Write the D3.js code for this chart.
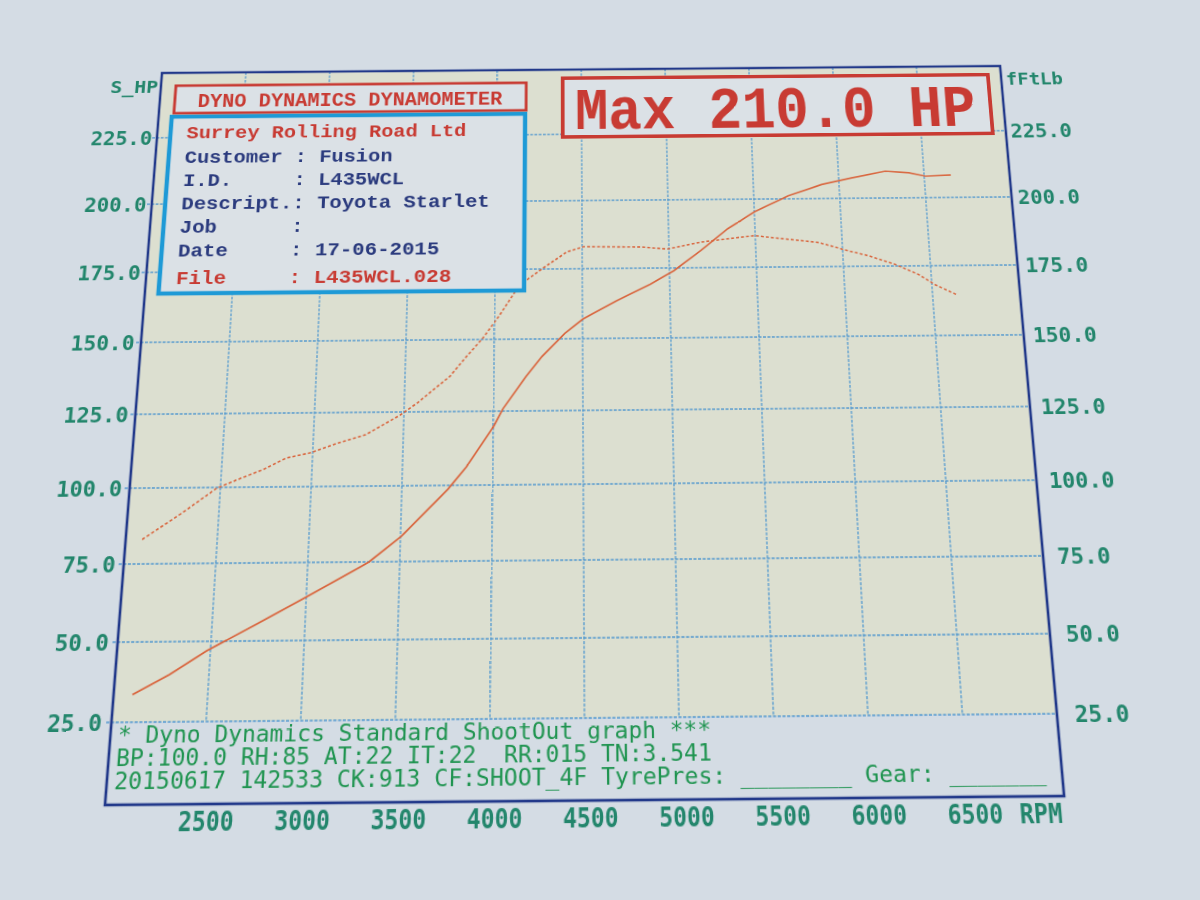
<!DOCTYPE html>
<html>
<head>
<meta charset="utf-8">
<script src="https://cdn.jsdelivr.net/npm/d3@7"></script>
<style>
  html, body { margin: 0; padding: 0; width: 1200px; height: 900px; overflow: hidden;
    background: #d4dce4; }
  #stage { position: absolute; left: 0; top: 0; width: 1200px; height: 900px;
    transform-origin: 0 0; }
  svg text { white-space: pre; }
</style>
</head>
<body>
<div id="stage"></div>
<script>
// ---------------- data ----------------
const xTicks = [2500, 3000, 3500, 4000, 4500, 5000, 5500, 6000, 6500];
const yTicks = [25, 50, 75, 100, 125, 150, 175, 200, 225];

// Power (solid line, S_HP, left axis)
const rpmPower = [2100, 2290, 2480, 2730, 2980, 3135, 3290, 3333, 3505, 3754, 3853, 4000, 4053, 4180,
  4270, 4399, 4502, 4695, 4889, 5026, 5183, 5342, 5502, 5700, 5898, 6076, 6274, 6411, 6508, 6656];
const hpValues = [33.5, 39.7, 47.0, 55.0, 63.2, 68.3, 73.5, 75.0, 83.3, 98.7, 106.1, 119.6, 125.8, 136.8,
  143.8, 151.9, 156.9, 163.3, 169.2, 174.0, 181.2, 189.1, 195.3, 201.1, 205.2, 207.6, 210.0, 209.4, 208.0, 208.4];

// Torque (dotted line, fFtLb, right axis)
const rpmTorque = [2090, 2289, 2477, 2585, 2729, 2856, 2983, 3135, 3289, 3480, 3572, 3662, 3753, 3843,
  3933, 4028, 4140, 4270, 4411, 4508, 4701, 4836, 4991, 5185, 5339, 5496, 5671, 5865, 6002, 6152,
  6300, 6429, 6519, 6640];
const tqValues = [83.0, 91.2, 99.6, 102.4, 105.8, 109.7, 111.3, 114.5, 117.3, 124.0, 128.0, 132.6, 137.2, 144.0,
  150.3, 158.5, 169.2, 175.1, 181.1, 183.0, 182.8, 182.7, 181.9, 184.3, 185.4, 186.5, 185.2, 183.8, 181.2, 178.7,
  175.5, 171.8, 168.1, 164.4];

const titleText = "DYNO DYNAMICS DYNAMOMETER";
const maxText = "Max 210.0 HP";
const infoLines = [
  {t: "Surrey Rolling Road Ltd", c: "red"},
  {t: "Customer : Fusion", c: "navy"},
  {t: "I.D.     : L435WCL", c: "navy"},
  {t: "Descript.: Toyota Starlet", c: "navy"},
  {t: "Job      :", c: "navy"},
  {t: "Date     : 17-06-2015", c: "navy"},
  {t: "File     : L435WCL.028", c: "red"}
];
const footerLines = [
  "* Dyno Dynamics Standard ShootOut graph ***",
  "BP:100.0 RH:85 AT:22 IT:22  RR:015 TN:3.541",
  "20150617 142533 CK:913 CF:SHOOT_4F TyrePres: ________ Gear: _______"
];

// ---------------- layout (flat design space) ----------------
const COL = {
  paper: "#d4dce4", plot: "#dcdfd0", box: "#dbe1e6",
  frame: "#22398a", grid: "#3f8fcf", curve: "#d9643c",
  red: "#c83b33", navy: "#2b3b7e", teal: "#23866c", green: "#1f9450", cyan: "#1e9ad6"
};

const svg = d3.select("#stage").append("svg")
  .attr("width", 1200).attr("height", 900);

const x = d3.scaleLinear().domain([2000, 7000]).range([150, 1050]);
const yHP = d3.scaleLinear().domain([0, 250]).range([830, 80]);
const yTQ = d3.scaleLinear().domain([0, 250]).range([830, 80]);

// plot background
svg.append("rect").attr("x", x(2000)).attr("y", yHP(250))
  .attr("width", x(7000) - x(2000)).attr("height", yHP(25) - yHP(250)).attr("fill", COL.plot);

// grid
const grid = svg.append("g").attr("stroke", COL.grid).attr("stroke-width", 1.3)
  .attr("stroke-dasharray", "3,1.5").attr("opacity", 0.85);
grid.selectAll("line.v").data(xTicks).join("line").attr("class", "v")
  .attr("x1", d => x(d)).attr("x2", d => x(d)).attr("y1", yHP(250)).attr("y2", yHP(25));
grid.selectAll("line.h").data(yTicks).join("line").attr("class", "h")
  .attr("x1", x(2000) - 5).attr("x2", x(7000)).attr("y1", d => yHP(d)).attr("y2", d => yHP(d));

// curves
const linePower = d3.line().x((d, i) => x(rpmPower[i])).y(d => yHP(d));
const lineTorque = d3.line().x((d, i) => x(rpmTorque[i])).y(d => yTQ(d));
svg.append("path").datum(tqValues).attr("d", lineTorque).attr("fill", "none")
  .attr("stroke", COL.curve).attr("stroke-width", 1.6).attr("stroke-dasharray", "3,2.2");
svg.append("path").datum(hpValues).attr("d", linePower).attr("fill", "none")
  .attr("stroke", COL.curve).attr("stroke-width", 1.7);

// frame
svg.append("rect").attr("x", 150).attr("y", 80).attr("width", 900).attr("height", 750)
  .attr("fill", "none").attr("stroke", COL.frame).attr("stroke-width", 2.6);

// title box
svg.append("rect").attr("x", 166).attr("y", 95).attr("width", 375).attr("height", 32)
  .attr("fill", COL.box).attr("stroke", COL.red).attr("stroke-width", 3);
svg.append("text").attr("x", 353).attr("y", 120).attr("text-anchor", "middle")
  .attr("font-family", "Liberation Mono, monospace").attr("font-weight", "bold")
  .attr("font-size", 22).attr("textLength", 325).attr("lengthAdjust", "spacingAndGlyphs")
  .attr("fill", COL.red).text(titleText);

// info box
svg.append("rect").attr("x", 164).attr("y", 131).attr("width", 376).attr("height", 197)
  .attr("fill", COL.box).attr("stroke", COL.cyan).attr("stroke-width", 4.5);
const infoY = [156, 184, 210, 236, 262, 288, 318];
svg.append("g").selectAll("text").data(infoLines).join("text")
  .attr("x", 181).attr("y", (d, i) => infoY[i])
  .attr("font-family", "Liberation Mono, monospace").attr("font-weight", "bold")
  .attr("font-size", 21).attr("textLength", d => d.t.length * 12.9).attr("lengthAdjust", "spacingAndGlyphs")
  .attr("fill", d => d.c === "red" ? COL.red : COL.navy).text(d => d.t);

// Max box
svg.append("rect").attr("x", 580).attr("y", 90).attr("width", 456).attr("height", 68)
  .attr("fill", COL.box).attr("stroke", COL.red).attr("stroke-width", 4);
svg.append("text").attr("x", 593).attr("y", 149)
  .attr("font-family", "Liberation Mono, monospace").attr("font-weight", "bold")
  .attr("font-size", 68).attr("textLength", 427).attr("lengthAdjust", "spacingAndGlyphs")
  .attr("fill", COL.red).text(maxText);

// footer text
svg.append("g").selectAll("text").data(footerLines).join("text")
  .attr("x", 157).attr("y", (d, i) => [774, 795, 816][i])
  .attr("font-family", "DejaVu Sans Mono, monospace")
  .attr("font-size", 22).attr("textLength", d => d.length * 13.1).attr("lengthAdjust", "spacingAndGlyphs")
  .attr("fill", COL.green).text(d => d);

// axes
const fmt = d => d.toFixed(1);
function styleAxis(g, charW, fs) {
  g.select(".domain").remove();
  g.selectAll(".tick text")
    .attr("font-family", "DejaVu Sans Mono, monospace").attr("font-weight", "bold")
    .attr("font-size", fs).attr("fill", COL.teal)
    .attr("textLength", function() { return this.textContent.length * charW; })
    .attr("lengthAdjust", "spacingAndGlyphs");
}
const padL = d => 5 + (225 - d) / 200 * 4;
const padR = d => 5 + (225 - d) / 200 * 12;
svg.append("g").attr("transform", "translate(150,0)")
  .call(d3.axisLeft(yHP).tickValues(yTicks).tickFormat(fmt).tickSize(0))
  .call(g => styleAxis(g, 13, 22))
  .call(g => g.selectAll(".tick text").attr("x", d => -padL(d)));
svg.append("g").attr("transform", "translate(1050,0)")
  .call(d3.axisRight(yTQ).tickValues(yTicks).tickFormat(fmt).tickSize(0))
  .call(g => styleAxis(g, 13, 22))
  .call(g => g.selectAll(".tick text").attr("x", d => padR(d)));
svg.append("g").attr("transform", "translate(5,830)")
  .call(d3.axisBottom(x).tickValues(xTicks).tickFormat(d3.format("d")).tickSize(0).tickPadding(6))
  .call(g => styleAxis(g, 13, 25))
  .call(g => g.selectAll(".tick text").attr("dy", "0.71em"));

// axis titles
const axisTitle = (t, xx, yy, anchor, w) => svg.append("text").attr("x", xx).attr("y", yy)
  .attr("text-anchor", anchor).attr("font-family", "DejaVu Sans Mono, monospace").attr("font-weight", "bold")
  .attr("font-size", 20).attr("textLength", w).attr("lengthAdjust", "spacingAndGlyphs")
  .attr("fill", COL.teal).text(t);
axisTitle("S_HP", 147, 103, "end", 51);
axisTitle("fFtLb", 1055, 102, "start", 61);
svg.append("text").attr("x", x(6500) + 47).attr("y", 854)
  .attr("font-family", "DejaVu Sans Mono, monospace").attr("font-weight", "bold")
  .attr("font-size", 25).attr("textLength", 40).attr("lengthAdjust", "spacingAndGlyphs")
  .attr("fill", COL.teal).text("RPM");

// ---------------- perspective (photo of a printout) ----------------
function homography(src, dst) {
  const A = [], b = [];
  for (let i = 0; i < 4; i++) {
    const [sx, sy] = src[i], [u, v] = dst[i];
    A.push([sx, sy, 1, 0, 0, 0, -u * sx, -u * sy]); b.push(u);
    A.push([0, 0, 0, sx, sy, 1, -v * sx, -v * sy]); b.push(v);
  }
  const n = 8;
  for (let c = 0; c < n; c++) {
    let p = c;
    for (let r = c + 1; r < n; r++) if (Math.abs(A[r][c]) > Math.abs(A[p][c])) p = r;
    [A[c], A[p]] = [A[p], A[c]]; [b[c], b[p]] = [b[p], b[c]];
    for (let r = 0; r < n; r++) {
      if (r === c) continue;
      const f = A[r][c] / A[c][c];
      for (let k = c; k < n; k++) A[r][k] -= f * A[c][k];
      b[r] -= f * b[c];
    }
  }
  return b.map((v, i) => v / A[i][i]);
}
const srcPts = [[150, 80], [1050, 80], [1050, 830], [150, 830]];
const dstPts = [[162, 73], [1000, 66], [1064, 796], [105, 805]];
const h = homography(srcPts, dstPts);
d3.select("#stage").style("transform",
  `matrix3d(${h[0]},${h[3]},0,${h[6]},${h[1]},${h[4]},0,${h[7]},0,0,1,0,${h[2]},${h[5]},0,1)`);
</script>
</body>
</html>
